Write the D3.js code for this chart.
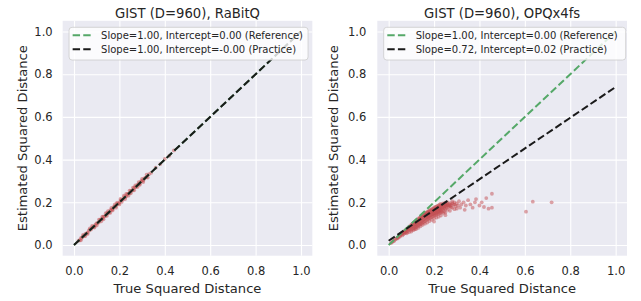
<!DOCTYPE html>
<html>
<head>
<meta charset="utf-8">
<script src="https://cdn.jsdelivr.net/npm/d3@7"></script>
<style>
  body { margin: 0; background: #fff; }
  svg { display: block; font-family: "DejaVu Sans", sans-serif; }
</style>
</head>
<body>
<div id="chart"></div>
<script>
// ---- data ----
var titles = ["GIST (D=960), RaBitQ", "GIST (D=960), OPQx4fs"]
var tickValues = [0, 0.2, 0.4, 0.6, 0.8, 1.0]
var xLabel = "True Squared Distance"
var yLabel = "Estimated Squared Distance"

// fitted lines: [slope, intercept]
var refLine = [1.00, 0.00]
var rabitqFit = [1.00, -0.00]
var opqFit = [0.72, 0.02]
var legendRabitq = ["Slope=1.00, Intercept=0.00 (Reference)", "Slope=1.00, Intercept=-0.00 (Practice)"]
var legendOpq = ["Slope=1.00, Intercept=0.00 (Reference)", "Slope=0.72, Intercept=0.02 (Practice)"]

// scatter samples: [true, estimated]
var rabitqPoints = [
  [0.02,0.021],[0.025,0.022],[0.03,0.032],[0.035,0.034],[0.04,0.041],[0.045,0.043],[0.05,0.052],[0.055,0.054],
  [0.06,0.058],[0.065,0.067],[0.07,0.071],[0.075,0.073],[0.08,0.082],[0.085,0.084],[0.09,0.088],[0.095,0.097],
  [0.1,0.102],[0.105,0.103],[0.11,0.108],[0.115,0.118],[0.12,0.121],[0.125,0.123],[0.13,0.133],[0.135,0.134],
  [0.14,0.138],[0.145,0.148],[0.15,0.151],[0.155,0.152],[0.16,0.163],[0.165,0.164],[0.17,0.168],[0.175,0.178],
  [0.18,0.181],[0.185,0.183],[0.19,0.193],[0.195,0.194],[0.2,0.198],[0.205,0.208],[0.21,0.211],[0.215,0.213],
  [0.22,0.223],[0.225,0.224],[0.23,0.228],[0.235,0.238],[0.24,0.241],[0.245,0.243],[0.25,0.253],[0.255,0.254],
  [0.26,0.258],[0.265,0.268],[0.27,0.271],[0.275,0.273],[0.28,0.283],[0.285,0.284],[0.29,0.288],[0.295,0.298],
  [0.3,0.301],[0.305,0.303],[0.31,0.312],[0.315,0.316],[0.32,0.318],[0.33,0.332],[0.34,0.338],[0.36,0.362],
  [0.38,0.379],[0.4,0.403],[0.42,0.418],[0.44,0.443],
  [0.03,0.022],[0.05,0.042],[0.07,0.078],[0.09,0.082],[0.11,0.119],[0.13,0.121],[0.15,0.159],[0.17,0.162],
  [0.19,0.199],[0.21,0.202],[0.23,0.239],[0.25,0.242],[0.27,0.279],[0.29,0.282],[0.12,0.111],[0.14,0.149],
  [0.16,0.151],[0.18,0.19],[0.2,0.19],[0.22,0.231],[0.24,0.231],[0.26,0.269],[0.28,0.272],[0.3,0.31],
  [0.1,0.092],[0.08,0.089],[0.06,0.052],[0.04,0.047],[0.165,0.174],[0.185,0.175],[0.205,0.216],[0.225,0.215],
  [0.245,0.255],[0.265,0.256],[0.285,0.295],[0.305,0.295],[0.145,0.137],[0.125,0.133],[0.32,0.33],[0.325,0.316]
]

var opqPoints = [
  [0.01,0.009],[0.015,0.013],[0.02,0.018],[0.025,0.02],[0.03,0.027],[0.035,0.03],[0.04,0.036],[0.045,0.038],
  [0.05,0.045],[0.05,0.04],[0.04,0.031],
  [0.055,0.05],[0.06,0.055],[0.06,0.045],[0.065,0.06],[0.065,0.05],[0.07,0.065],[0.07,0.055],[0.075,0.07],
  [0.075,0.058],[0.08,0.075],[0.08,0.062],[0.08,0.055],[0.085,0.078],[0.085,0.066],[0.09,0.085],[0.09,0.072],
  [0.09,0.06],[0.095,0.088],[0.095,0.075],[0.1,0.095],[0.1,0.082],[0.1,0.07],[0.1,0.063],
  [0.105,0.1],[0.105,0.088],[0.105,0.075],[0.11,0.104],[0.11,0.093],[0.11,0.08],[0.11,0.07],[0.115,0.108],
  [0.115,0.097],[0.115,0.085],[0.115,0.075],[0.12,0.113],[0.12,0.102],[0.12,0.092],[0.12,0.082],[0.12,0.074],
  [0.125,0.118],[0.125,0.106],[0.125,0.096],[0.125,0.086],[0.13,0.122],[0.13,0.11],[0.13,0.1],[0.13,0.09],
  [0.13,0.08],[0.135,0.127],[0.135,0.115],[0.135,0.104],[0.135,0.094],[0.14,0.13],[0.14,0.12],[0.14,0.108],
  [0.14,0.098],[0.14,0.088],[0.145,0.135],[0.145,0.123],[0.145,0.112],[0.145,0.1],[0.15,0.14],[0.15,0.128],
  [0.15,0.116],[0.15,0.105],[0.15,0.095],
  [0.155,0.143],[0.155,0.132],[0.155,0.12],[0.155,0.108],[0.16,0.148],[0.16,0.136],[0.16,0.124],[0.16,0.112],
  [0.16,0.1],[0.165,0.15],[0.165,0.14],[0.165,0.128],[0.165,0.116],[0.17,0.155],[0.17,0.143],[0.17,0.131],
  [0.17,0.12],[0.17,0.105],[0.175,0.158],[0.175,0.146],[0.175,0.134],[0.175,0.122],[0.18,0.162],[0.18,0.15],
  [0.18,0.138],[0.18,0.126],[0.18,0.112],[0.185,0.165],[0.185,0.153],[0.185,0.14],[0.185,0.128],[0.19,0.168],
  [0.19,0.156],[0.19,0.144],[0.19,0.132],[0.19,0.118],[0.195,0.17],[0.195,0.158],[0.195,0.146],[0.195,0.134],
  [0.2,0.175],[0.2,0.162],[0.2,0.15],[0.2,0.138],[0.2,0.125],[0.2,0.11],
  [0.205,0.178],[0.205,0.165],[0.205,0.152],[0.205,0.14],[0.21,0.18],[0.21,0.168],[0.21,0.155],[0.21,0.142],
  [0.21,0.128],[0.215,0.183],[0.215,0.17],[0.215,0.157],[0.215,0.145],[0.22,0.185],[0.22,0.172],[0.22,0.16],
  [0.22,0.147],[0.22,0.132],[0.225,0.19],[0.225,0.176],[0.225,0.162],[0.225,0.15],[0.23,0.192],[0.23,0.178],
  [0.23,0.165],[0.23,0.152],[0.23,0.138],[0.235,0.186],[0.235,0.17],[0.235,0.155],[0.24,0.195],[0.24,0.18],
  [0.24,0.166],[0.24,0.15],[0.245,0.188],[0.245,0.172],[0.245,0.158],[0.25,0.198],[0.25,0.182],[0.25,0.168],
  [0.25,0.152],[0.25,0.14],
  [0.255,0.19],[0.255,0.175],[0.26,0.2],[0.26,0.185],[0.26,0.165],[0.265,0.178],[0.27,0.195],[0.27,0.182],
  [0.27,0.16],[0.275,0.188],[0.28,0.205],[0.28,0.175],[0.285,0.19],[0.29,0.2],[0.29,0.168],[0.295,0.182],
  [0.3,0.195],[0.3,0.17],[0.305,0.185],
  [0.31,0.205],[0.315,0.175],[0.32,0.19],[0.33,0.2],[0.335,0.165],[0.34,0.185],[0.35,0.21],[0.36,0.19],
  [0.37,0.175],[0.38,0.2],[0.385,0.215],[0.4,0.185],[0.41,0.2],[0.42,0.178],[0.43,0.22],[0.44,0.17],
  [0.455,0.24],[0.455,0.175],
  [0.605,0.156],[0.635,0.203],[0.718,0.2],
  // extra density in the core of the cloud
  [0.06,0.058],[0.07,0.06],[0.08,0.07],[0.09,0.078],[0.1,0.088],[0.11,0.098],[0.12,0.107],[0.13,0.116],
  [0.14,0.125],[0.15,0.133],[0.16,0.142],[0.17,0.15],[0.18,0.156],[0.19,0.162],[0.2,0.168],[0.21,0.172],
  [0.22,0.178],[0.23,0.184],[0.24,0.188],[0.25,0.19],[0.26,0.192],[0.27,0.188],[0.28,0.196],[0.29,0.19],
  [0.165,0.135],[0.175,0.14],[0.185,0.146],[0.195,0.152],[0.205,0.158],[0.215,0.163],[0.225,0.168],[0.235,0.175],
  [0.245,0.18],[0.255,0.183],[0.265,0.186],[0.275,0.176],[0.2,0.145],[0.21,0.15],[0.22,0.155],[0.23,0.16]
]

var W = 641, H = 301
var colors = { bg: "#eaeaf2", text: "#262626", green: "#55a868", black: "#1a1a1a", red: "#c44e52" }

var svg = d3.select("#chart").append("svg")
  .attr("width", W)
  .attr("height", H)

function panel(opt) {
  var x = d3.scaleLinear().domain([-0.05, 1.05]).range([opt.left, opt.left + 249.7])
  var y = d3.scaleLinear().domain([-0.05, 1.05]).range([255.7, 20.8])

  var g = svg.append("g")

  g.append("rect")
    .attr("x", x(-0.05)).attr("y", y(1.05))
    .attr("width", x(1.05) - x(-0.05)).attr("height", y(-0.05) - y(1.05))
    .attr("fill", colors.bg)

  // gridlines
  g.append("g")
    .attr("transform", "translate(0," + y(-0.05) + ")")
    .call(d3.axisBottom(x).tickValues(tickValues).tickSize(-(y(-0.05) - y(1.05))).tickFormat(""))
    .call(function(a) { a.select(".domain").remove() })
    .selectAll("line").attr("stroke", "#fff").attr("stroke-width", 1.1)
  g.append("g")
    .attr("transform", "translate(" + x(-0.05) + ",0)")
    .call(d3.axisLeft(y).tickValues(tickValues).tickSize(-(x(1.05) - x(-0.05))).tickFormat(""))
    .call(function(a) { a.select(".domain").remove() })
    .selectAll("line").attr("stroke", "#fff").attr("stroke-width", 1.1)

  // tick labels
  var xa = g.append("g")
    .attr("transform", "translate(0," + y(-0.05) + ")")
    .call(d3.axisBottom(x).tickValues(tickValues).tickSize(0).tickPadding(11).tickFormat(d3.format(".1f")))
  var ya = g.append("g")
    .attr("transform", "translate(" + x(-0.05) + ",0)")
    .call(d3.axisLeft(y).tickValues(tickValues).tickSize(0).tickPadding(opt.ypad).tickFormat(d3.format(".1f")))
  ;[xa, ya].forEach(function(a) {
    a.select(".domain").remove()
    a.selectAll("text").attr("fill", colors.text).style("font-size", "11.5px")
      .style("font-family", "DejaVu Sans")
  })

  // scatter
  g.append("g").selectAll("circle")
    .data(opt.points)
    .enter().append("circle")
    .attr("cx", function(d) { return x(d[0]) })
    .attr("cy", function(d) { return y(d[1]) })
    .attr("r", 1.9)
    .attr("fill", colors.red)
    .attr("fill-opacity", 0.5)

  // fitted lines
  var lines = [{ f: refLine, c: colors.green }, { f: opt.fit, c: colors.black }]
  g.selectAll("line.fit")
    .data(lines)
    .enter().append("line")
    .attr("class", "fit")
    .attr("x1", x(0)).attr("x2", x(1))
    .attr("y1", function(d) { return y(d.f[1]) })
    .attr("y2", function(d) { return y(d.f[0] + d.f[1]) })
    .attr("stroke", function(d) { return d.c })
    .attr("stroke-width", 2)
    .attr("stroke-dasharray", "7.4,3.2")

  // title and axis labels
  var cx = (x(-0.05) + x(1.05)) / 2
  g.append("text").attr("x", cx).attr("y", 17.5)
    .attr("text-anchor", "middle").attr("fill", colors.text).style("font-size", "13.2px")
    .text(opt.title)
  g.append("text").attr("x", cx).attr("y", 293)
    .attr("text-anchor", "middle").attr("fill", colors.text).style("font-size", "13.1px")
    .text(xLabel)
  g.append("text")
    .attr("transform", "translate(" + opt.ylabx + "," + ((y(-0.05) + y(1.05)) / 2) + ") rotate(-90)")
    .attr("text-anchor", "middle").attr("fill", colors.text).style("font-size", "13.1px")
    .text(yLabel)

  // legend
  var lg = g.append("g").attr("transform", "translate(" + (x(-0.05) + 6.4) + ",27.3)")
  lg.append("rect")
    .attr("width", opt.legW).attr("height", 32.7)
    .attr("rx", 3)
    .attr("fill", "#fff").attr("fill-opacity", 0.8)
    .attr("stroke", "#cccccc").attr("stroke-width", 0.8)
  opt.legend.forEach(function(t, i) {
    var ly = 8 + i * 14
    lg.append("line")
      .attr("x1", 3.6).attr("x2", 24.2).attr("y1", ly).attr("y2", ly)
      .attr("stroke", lines[i].c).attr("stroke-width", 2)
      .attr("stroke-dasharray", "7.4,3.2")
    lg.append("text")
      .attr("x", 32).attr("y", ly + 3.6)
      .attr("fill", colors.text).style("font-size", "10px")
      .text(t)
  })
}

panel({ left: 62.65, title: titles[0], points: rabitqPoints, fit: rabitqFit, legend: legendRabitq,
        ypad: 10, ylabx: 26.5, legW: 239 })
panel({ left: 377.3, title: titles[1], points: opqPoints, fit: opqFit, legend: legendOpq,
        ypad: 11, ylabx: 337.5, legW: 242 })
</script>
</body>
</html>
